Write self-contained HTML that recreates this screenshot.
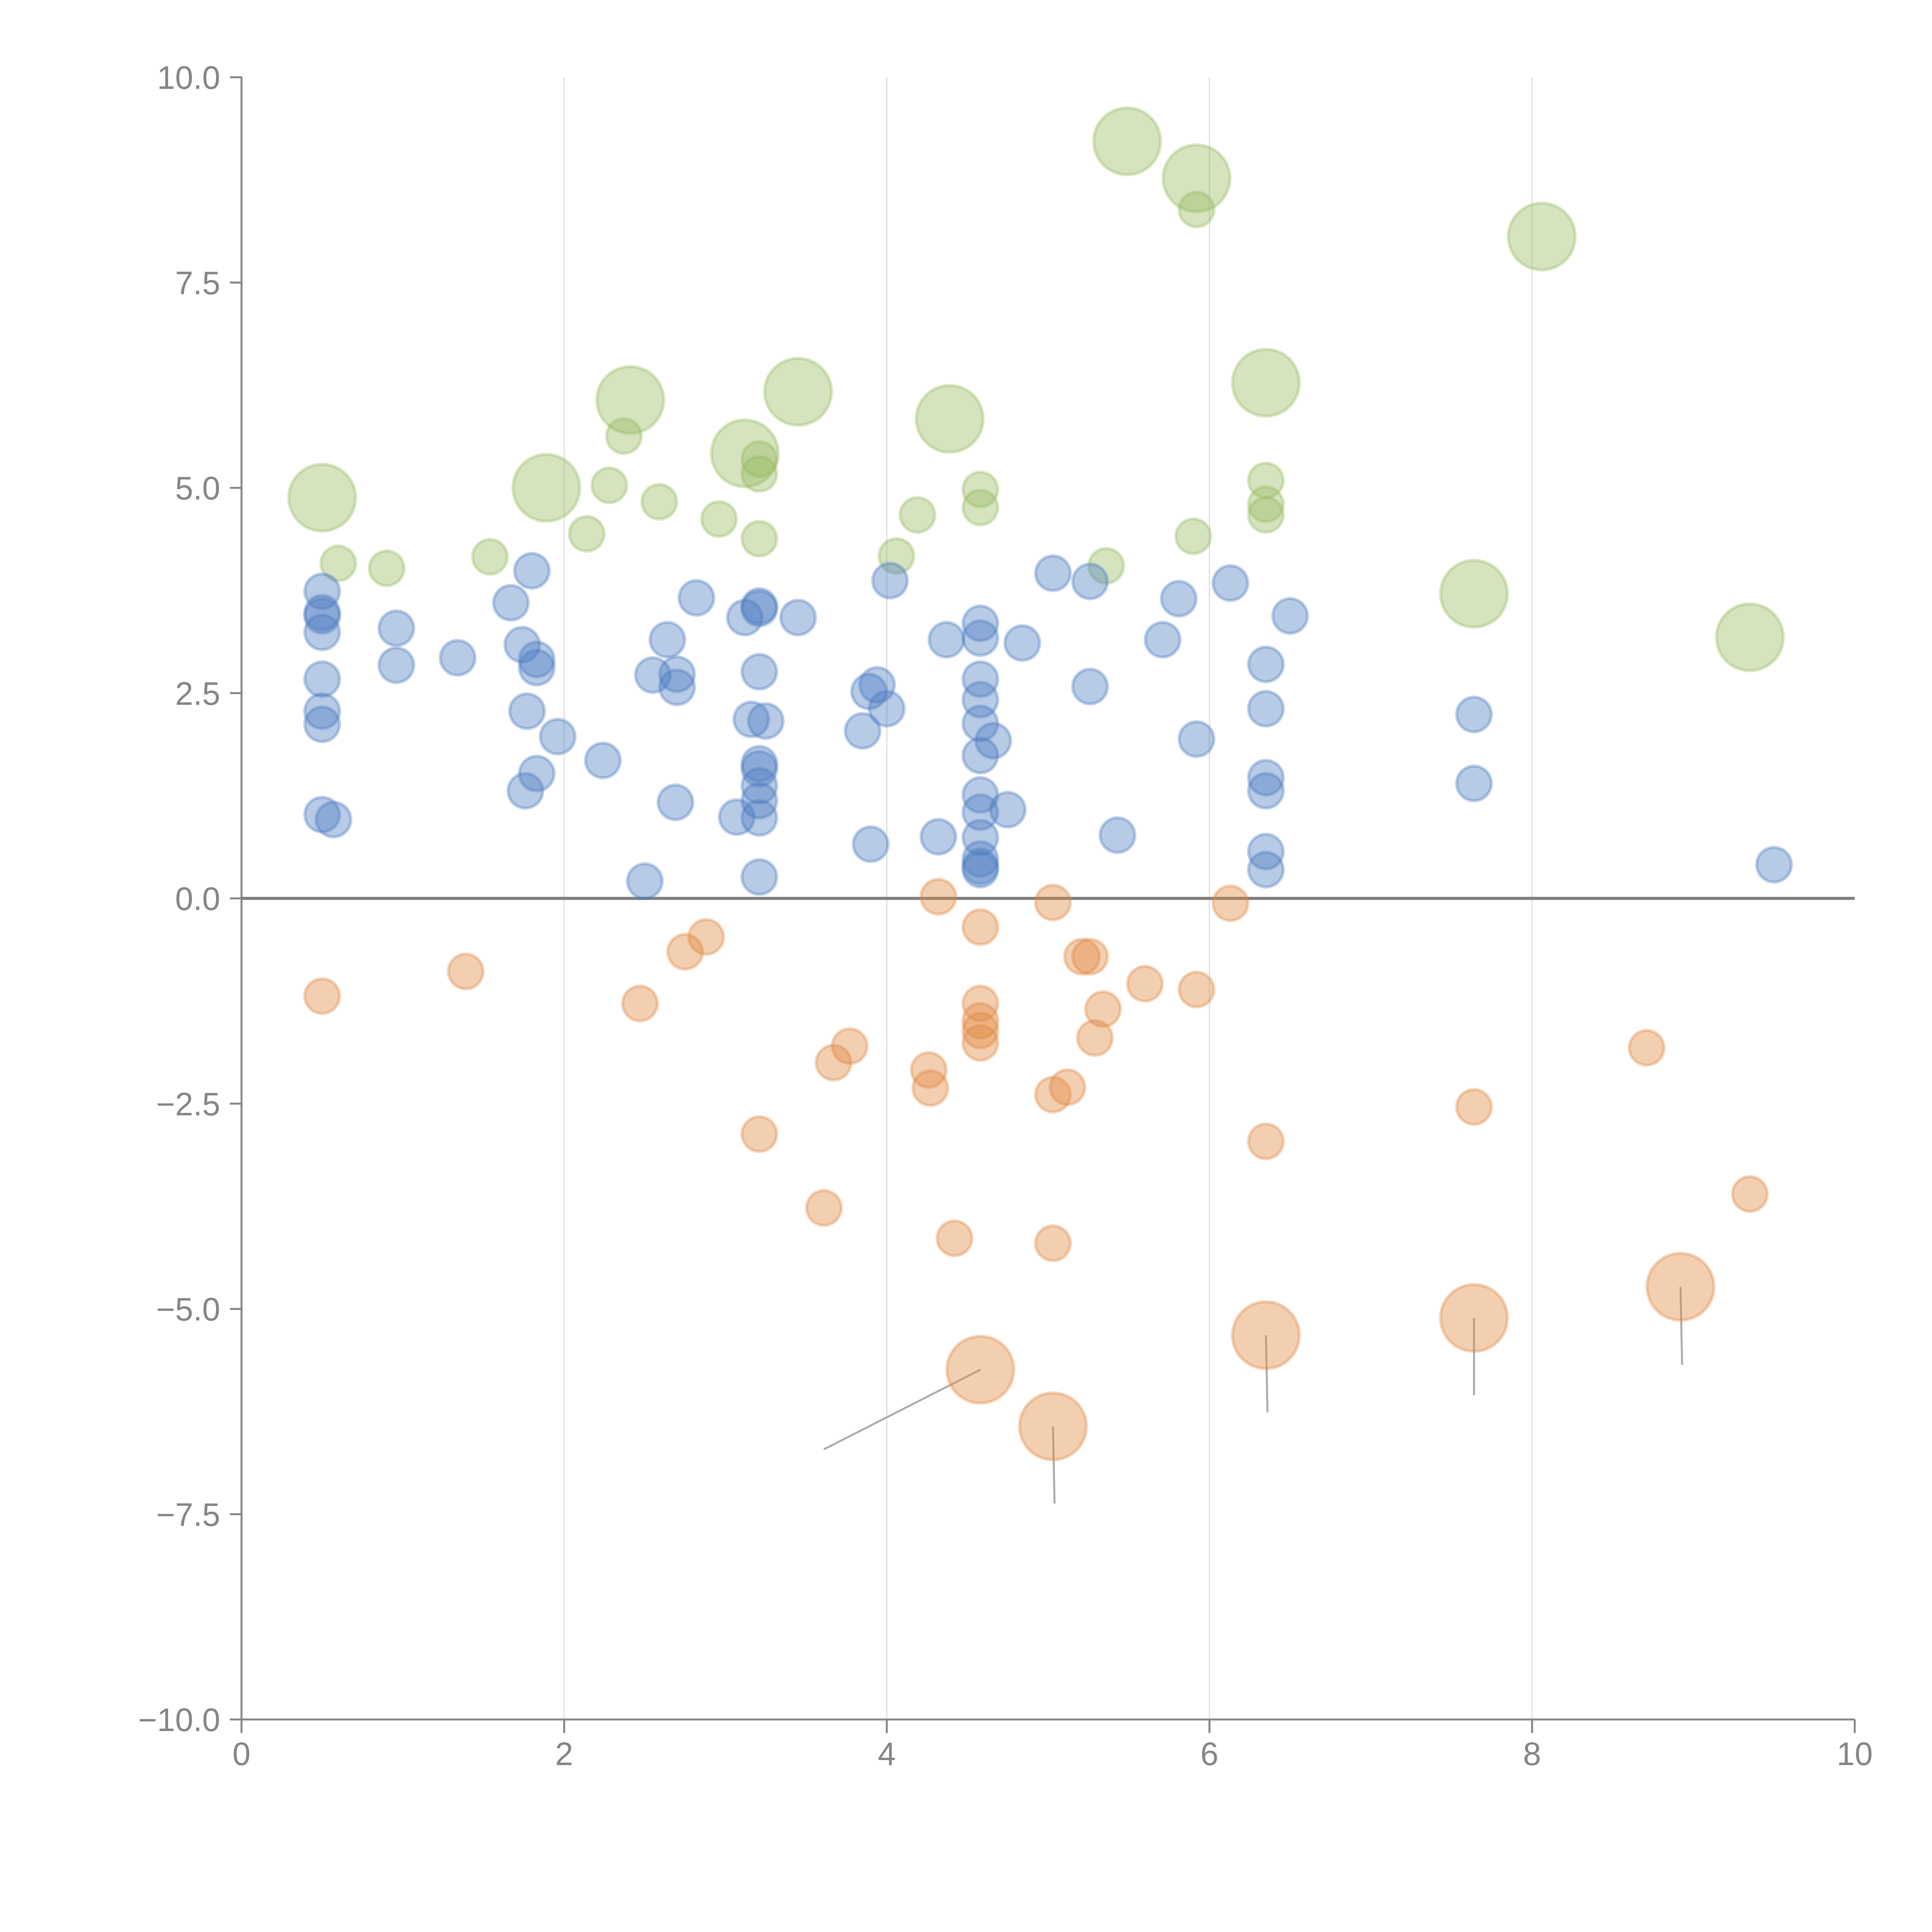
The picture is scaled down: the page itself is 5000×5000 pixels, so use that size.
<!DOCTYPE html>
<html><head><meta charset="utf-8"><title>Bubble scatter</title>
<style>html,body{margin:0;padding:0;background:#fff}svg{display:block}</style></head>
<body>
<svg id="chart" width="5000" height="5000" viewBox="0 0 5000 5000" font-family="Liberation Sans, sans-serif">
<g id="grid"></g>
<g id="axes"></g>
<g id="marks"></g>
</svg>
<script>
const xTicks=[0,2,4,6,8,10];
const xTickLabels=["0","2","4","6","8","10"];
const yTicks=[-10,-7.5,-5,-2.5,0,2.5,5,7.5,10];
const yTickLabels=["\u221210.0","\u22127.5","\u22125.0","\u22122.5","0.0","2.5","5.0","7.5","10.0"];

const blueX=[0.50,0.50,0.50,0.50,0.50,0.50,0.50,0.50,0.57,0.96,0.96,1.34,1.67,1.74,1.77,1.80,1.83,1.83,1.76,1.83,1.96,2.24,2.50,2.55,2.70,2.70,2.64,2.69,2.82,3.12,3.21,3.21,3.07,3.16,3.25,3.21,3.21,3.21,3.21,3.21,3.21,3.21,3.45,3.85,3.90,3.89,3.94,4.00,4.02,4.32,4.37,4.58,4.58,4.58,4.58,4.58,4.58,4.66,4.58,4.58,4.58,4.58,4.58,4.58,4.75,4.84,5.03,5.26,5.26,5.43,5.71,5.81,5.92,6.13,6.35,6.35,6.35,6.35,6.35,6.35,6.50,7.64,7.64,9.50];
const blueY=[3.74,3.48,3.44,3.24,2.67,2.28,2.12,1.02,0.96,3.29,2.84,2.93,3.60,3.09,2.28,3.99,2.91,2.81,1.31,1.52,1.97,1.68,0.21,2.72,2.73,2.57,3.15,1.17,3.66,3.42,3.56,3.53,0.99,2.18,2.16,2.76,1.64,1.58,1.37,1.19,0.98,0.26,3.42,2.04,0.66,2.52,2.60,2.31,3.87,0.75,3.15,3.35,3.17,2.67,2.42,2.13,1.74,1.92,1.26,1.05,0.74,0.48,0.39,0.35,1.08,3.11,3.96,3.86,2.58,0.77,3.15,3.65,1.94,3.84,2.85,2.31,1.47,1.31,0.57,0.35,3.44,2.24,1.40,0.41];

const orangeX=[0.50,1.39,2.47,2.75,2.88,3.21,3.61,3.67,3.77,4.26,4.27,4.32,4.42,4.58,4.58,4.58,4.58,4.58,5.03,5.03,5.03,5.12,5.21,5.26,5.29,5.34,5.60,5.92,6.13,6.35,7.64,8.71,9.35,4.58,5.03,6.35,7.64,8.92];
const orangeY=[-1.19,-0.89,-1.28,-0.65,-0.47,-2.87,-3.77,-2.00,-1.80,-2.09,-2.31,0.02,-4.14,-0.35,-1.28,-1.49,-1.61,-1.76,-0.05,-2.39,-4.20,-2.30,-0.71,-0.71,-1.70,-1.35,-1.04,-1.11,-0.06,-2.96,-2.54,-1.82,-3.60,-5.74,-6.43,-5.32,-5.11,-4.73];
const orangeSize=[1,1,1,1,1,1,1,1,1,1,1,1,1,1,1,1,1,1,1,1,1,1,1,1,1,1,1,1,1,1,1,1,1,3.7,3.7,3.7,3.7,3.7];
const orangeLabelX=[null,null,null,null,null,null,null,null,null,null,null,null,null,null,null,null,null,null,null,null,null,null,null,null,null,null,null,null,null,null,null,null,null,3.61,5.04,6.36,7.64,8.93];
const orangeLabelY=[null,null,null,null,null,null,null,null,null,null,null,null,null,null,null,null,null,null,null,null,null,null,null,null,null,null,null,null,null,null,null,null,null,-6.71,-7.37,-6.26,-6.05,-5.68];

const greenX=[0.60,0.90,1.54,2.14,2.28,2.37,2.59,2.96,3.21,3.21,3.21,4.06,4.19,4.58,4.58,5.36,5.90,5.92,6.35,6.35,6.35,0.50,1.89,2.41,3.12,3.45,4.39,5.49,5.92,6.35,7.64,8.06,9.35];
const greenY=[4.08,4.02,4.16,4.44,5.03,5.63,4.83,4.62,5.35,5.17,4.38,4.17,4.67,4.98,4.76,4.05,4.41,8.39,5.09,4.80,4.67,4.88,5.00,6.07,5.42,6.17,5.84,9.22,8.77,6.28,3.71,8.06,3.18];
const greenSize=[1,1,1,1,1,1,1,1,1,1,1,1,1,1,1,1,1,1,1,1,1,3.7,3.7,3.7,3.7,3.7,3.7,3.7,3.7,3.7,3.7,3.7,3.7];

const X0=625,X1=4800,Y0=4450,Y1=200;
function sx(v){return X0+(v-0)/(10-0)*(X1-X0);}
function sy(v){return Y0-(v+10)/20*(Y0-Y1);}
function sr(s){return 45*Math.sqrt(s);}
const NS="http://www.w3.org/2000/svg";
function mk(tag,attrs,parent){const e=document.createElementNS(NS,tag);for(const k in attrs)e.setAttribute(k,attrs[k]);parent.appendChild(e);return e;}
const grid=document.getElementById('grid'),axes=document.getElementById('axes'),marks=document.getElementById('marks');

xTicks.forEach((t,i)=>{
  if(t>0&&t<10){const g=mk('line',{x1:sx(t),x2:sx(t),y1:Y1,y2:Y0,stroke:'#dddddd','stroke-width':3},grid);
  
  }
  const tk=mk('line',{x1:sx(t),x2:sx(t),y1:Y0,y2:Y0+35,stroke:'#858585','stroke-width':5},axes);
  
  
  const tx=mk('text',{x:sx(t),y:Y0+118,'text-anchor':'middle','font-size':84,fill:'#858585'},axes);
  tx.textContent=xTickLabels[i];
  
  
});
yTicks.forEach((t,i)=>{
  const tk=mk('line',{x1:X0-30,x2:X0,y1:sy(t),y2:sy(t),stroke:'#858585','stroke-width':5},axes);
  
  
  const tx=mk('text',{x:X0-55,y:sy(t)+30,'text-anchor':'end','font-size':84,fill:'#858585'},axes);
  tx.textContent=yTickLabels[i];
  
  
});
const xa=mk('line',{x1:X0,x2:X1,y1:Y0,y2:Y0,stroke:'#858585','stroke-width':5},axes);


const ya=mk('line',{x1:X0,x2:X0,y1:Y1-2,y2:Y0,stroke:'#858585','stroke-width':5},axes);


const zl=mk('line',{x1:X0,x2:X1,y1:sy(0),y2:sy(0),stroke:'#808080','stroke-width':8},axes);



function drawSeries(xs,ys,sizes,color,name){
  xs.forEach((x,i)=>{
    const c=mk('circle',{cx:sx(x),cy:sy(ys[i]),r:sr(sizes?sizes[i]:1),fill:color,'fill-opacity':0.4,stroke:color,'stroke-opacity':0.35,'stroke-width':8},marks);
    
    
  });
}
orangeLabelX.forEach((lx,i)=>{
  if(lx===null)return;
  const l=mk('line',{x1:sx(orangeX[i]),y1:sy(orangeY[i]),x2:sx(lx),y2:sy(orangeLabelY[i]),stroke:'#aaaaaa','stroke-width':5},marks);
  
  
});
drawSeries(orangeX,orangeY,orangeSize,'#e0883f','orange-bubble');
drawSeries(greenX,greenY,greenSize,'#96b95f','green-bubble');
drawSeries(blueX,blueY,null,'#4a7bc0','blue-bubble');
</script>
</body></html>
